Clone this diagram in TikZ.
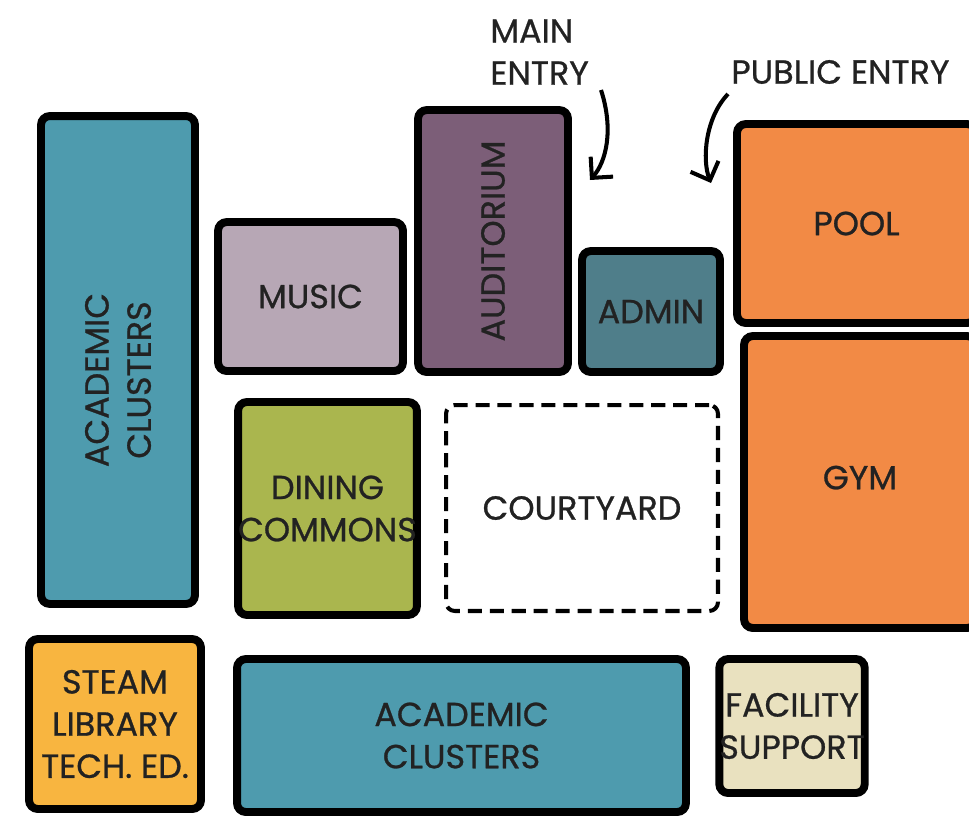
\documentclass[tikz,border=0pt]{standalone}
\usepackage{fontspec}
\setmainfont{Poppins}[FakeBold=0.8]
\usetikzlibrary{arrows.meta}
\definecolor{acadblue}{HTML}{4E9BAE}
\definecolor{musicmauve}{HTML}{B7A7B5}
\definecolor{auditpurple}{HTML}{7C5E78}
\definecolor{adminslate}{HTML}{4F7E8A}
\definecolor{sportorange}{HTML}{F28A45}
\definecolor{diningolive}{HTML}{AAB64E}
\definecolor{steamgold}{HTML}{F8B540}
\definecolor{facilcream}{HTML}{E9E1BF}
\definecolor{inkgrey}{HTML}{222222}
\tikzset{room/.style={draw=black, line width=4.5pt, rounded corners=5pt, align=center, inner sep=0pt,
  text=inkgrey, font=\fontsize{19}{24}\selectfont}}
\tikzset{tag/.style={text=inkgrey, font=\fontsize{19}{24}\selectfont, inner sep=0pt}}

\begin{document}
\begin{tikzpicture}[x=0.02cm,y=-0.02cm]
    \useasboundingbox (0,0) rectangle (969,816);

    \node[room,fill=acadblue,rotate=90,minimum width=9.76cm,minimum height=3.08cm] (ACL) at (118,360) {ACADEMIC\hspace*{0.8cm}\\CLUSTERS\hspace*{0.8cm}};
    \node[room,fill=musicmauve,minimum width=3.70cm,minimum height=2.98cm] (MUS) at (310.5,296.5) {MUSIC};
    \node[room,fill=auditpurple,rotate=90,minimum width=5.24cm,minimum height=3.00cm] (AUD) at (493,241) {AUDITORIUM};
    \node[room,fill=adminslate,minimum width=2.76cm,minimum height=2.42cm] (ADM) at (651,311.5) {ADMIN};
    \node[room,fill=sportorange,minimum width=4.78cm,minimum height=3.98cm] (POOL) at (856.5,223.5) {POOL};
    \node[room,fill=sportorange,minimum width=4.64cm,minimum height=5.84cm] (GYM) at (860,482) {\raisebox{0.18cm}{GYM}};
    \node[room,fill=diningolive,minimum width=3.54cm,minimum height=4.26cm] (DIN) at (327.5,508.5) {DINING\\COMMONS};
    \node[room,dashed,line width=2.3pt,dash pattern=on 8pt off 4.5pt,minimum width=5.44cm,minimum height=4.12cm] (CRT) at (582,508) {COURTYARD};
    \node[room,fill=steamgold,minimum width=3.44cm,minimum height=3.40cm] (STM) at (115,724) {STEAM\\LIBRARY\\TECH. ED.};
    \node[room,fill=acadblue,minimum width=8.98cm,minimum height=3.06cm] (ACB) at (461.5,735.5) {ACADEMIC\\CLUSTERS};
    \node[room,fill=facilcream,minimum width=2.88cm,minimum height=2.68cm] (FAC) at (792,726) {FACILITY\\SUPPORT};

    \node[tag,anchor=west,align=left] (MAIN) at (490,52) {MAIN\\ENTRY};
    \node[tag,anchor=west] (PUB) at (731,72) {PUBLIC ENTRY};

    \coordinate (mainStart) at (601,90);
    \coordinate (mainTip) at (590,180);
    \coordinate (pubStart) at (728,94);
    \coordinate (pubTip) at (711,183);
    \draw[line width=2.3pt,-{Straight Barb[length=3mm,width=6mm]}] (mainStart) .. controls (614,130) and (606,162) .. (mainTip);
    \draw[line width=2.3pt,-{Straight Barb[length=3mm,width=6mm]}] (pubStart) .. controls (705,118) and (702,160) .. (pubTip);
\end{tikzpicture}
\end{document}
